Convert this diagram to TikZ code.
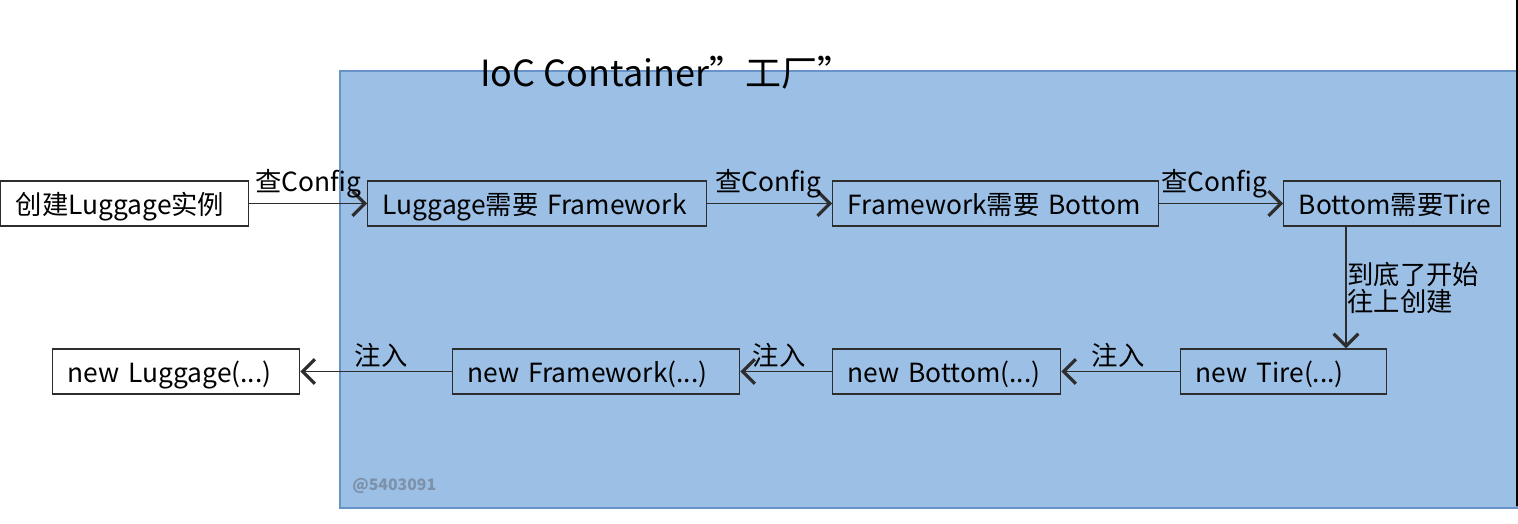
\documentclass[tikz,border=0pt]{standalone}
\usepackage{fontspec}
\setmainfont{Noto Sans CJK SC}
\usetikzlibrary{arrows.meta,calc}

\definecolor{behaelter}{RGB}{155,191,229}
\definecolor{behaelterrand}{RGB}{104,147,200}
\definecolor{linie}{RGB}{45,45,45}
\definecolor{wasserzeichen}{RGB}{125,145,170}

\tikzset{
  kasten/.style={draw=linie, line width=0.8pt, fill=white, anchor=west, align=left,
    inner xsep=0.3cm, inner ysep=0pt, minimum height=0.9cm, text height=0.5cm, text depth=0.06cm,
    font=\fontsize{15}{18}\selectfont},
  pfeil/.style={draw=linie, line width=0.8pt, -{Straight Barb[length=7pt,width=14pt,line width=1.8pt]}},
  beschrift/.style={anchor=base, inner sep=0pt, font=\fontsize{15}{18}\selectfont},
}

\begin{document}
\begin{tikzpicture}[x=0.02cm,y=-0.02cm]
         \useasboundingbox[fill=white] (0,0) rectangle (1518,524);
         % Container
         \draw[fill=behaelter, draw=behaelterrand, line width=0.8pt] (340,71) rectangle (1517,508);
         \draw[black, line width=0.8pt] (1517,0) -- (1517,506);
         \node (titel) [anchor=base west, inner sep=0pt, font=\fontsize{20.5}{24}\selectfont] at (480,86) {IoC Container”工厂”};
         \node (marke) [anchor=base west, inner sep=0pt, text=wasserzeichen, font=\fontsize{9}{11}\bfseries\selectfont] at (352,490) {@5403091};

         % obere Reihe
         \node (erstellen) [kasten, fill=white, text width=4.36cm] at (0,203.5) {创建Luggage实例};
         \node (lugbraucht) [kasten, fill=none, text width=6.18cm] at (367,203.5) {Luggage需要 Framework};
         \node (frambraucht) [kasten, fill=none, text width=5.92cm] at (832,203.5) {Framework需要 Bottom};
         \node (botbraucht) [kasten, fill=none, text width=3.74cm] at (1283,203.5) {Bottom需要Tire};

         % untere Reihe
         \node (neulug) [kasten, text width=4.34cm] at (52,371.5) {new Luggage(...)};
         \node (neufram) [kasten, fill=none, text width=5.14cm] at (452,371.5) {new Framework(...)};
         \node (neubot) [kasten, fill=none, text width=3.96cm] at (832,371.5) {new Bottom(...)};
         \node (neutire) [kasten, fill=none, text width=3.52cm] at (1180,371.5) {new Tire(...)};

         \draw[pfeil] (erstellen) -- (lugbraucht);
         \draw[pfeil] (lugbraucht) -- (frambraucht);
         \draw[pfeil] (frambraucht) -- (botbraucht);
         \draw[pfeil] ([xshift=1.26cm]botbraucht.south west) -- ([xshift=1.26cm]botbraucht.south west |- neutire.north);
         \draw[pfeil] (neutire) -- (neubot);
         \draw[pfeil] (neubot) -- (neufram);
         \draw[pfeil] (neufram) -- (neulug);

         \node (cfg1) [beschrift] at (308,191) {查Config};
         \node (cfg2) [beschrift] at (768,191) {查Config};
         \node (cfg3) [beschrift] at (1214,191) {查Config};
         \node (abwaerts) [anchor=west, align=left, inner sep=0pt, font=\fontsize{15}{15.4}\selectfont] at (1347,288) {到底了开始\\往上创建};
         \node (inj1) [beschrift] at (1118,365) {注入};
         \node (inj2) [beschrift] at (779,365) {注入};
         \node (inj3) [beschrift] at (381,365) {注入};
\end{tikzpicture}
\end{document}
